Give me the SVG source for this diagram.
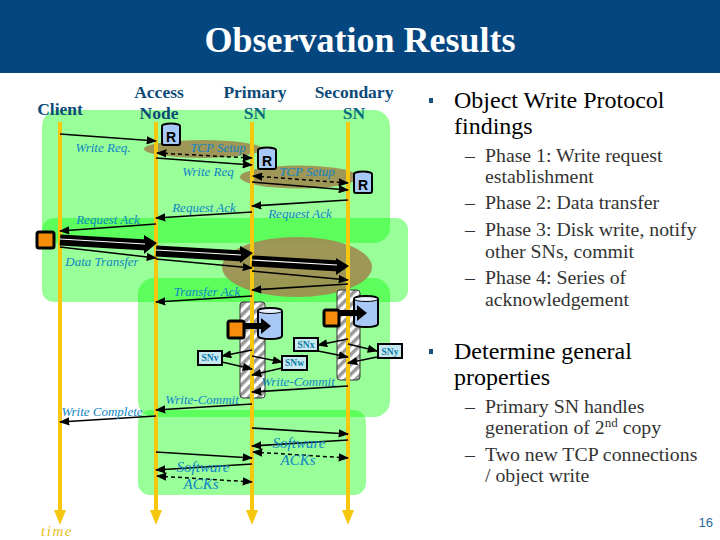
<svg xmlns="http://www.w3.org/2000/svg" width="720" height="540" viewBox="0 0 720 540">
<style>
text{font-family:"Liberation Serif","Times New Roman",serif}
.h{font-weight:bold;font-size:17.500px;fill:#0c4a78;text-anchor:middle}
.l{font-style:italic;font-size:13px;fill:#0f85c4;text-anchor:middle}
.b{font-size:24px;fill:#000}
.s{font-size:19.800px;fill:#333}
.sn{font-weight:bold;font-size:9.500px;fill:#0a78a8;text-anchor:middle}
.reg{fill:#00ff00;fill-opacity:.4}
.br{fill:#a08c50;fill-opacity:.9}
.ll{stroke:#f5c80f;stroke-width:4;fill:none}
.th{fill:#f5c80f}
.m{stroke:#000;stroke-width:1.500;fill:none;marker-end:url(#a)}
.dm{stroke:#000;stroke-width:1.500;fill:none;stroke-dasharray:4 3;marker-end:url(#a);marker-start:url(#as)}
.tk{stroke:#000;stroke-width:11;fill:none}
.tw{stroke:#fff;stroke-width:1.200;fill:none}
.box{fill:#c8e8f0;stroke:#000;stroke-width:2}
.cy{fill:#a8c8f5;stroke:#000;stroke-width:2}
.or{fill:#f58c0a;stroke:#000;stroke-width:3}
.bu{fill:#1a5078}
</style>
<defs>
<marker id="a" viewBox="0 0 10 8" refX="9" refY="4" markerWidth="7" markerHeight="5.500" orient="auto" markerUnits="strokeWidth"><path d="M0 0L10 4L0 8z" fill="#000"/></marker>
<marker id="as" viewBox="0 0 10 8" refX="1" refY="4" markerWidth="7" markerHeight="5.500" orient="auto" markerUnits="strokeWidth"><path d="M10 0L0 4L10 8z" fill="#000"/></marker>
<pattern id="hat" width="7" height="7" patternUnits="userSpaceOnUse" patternTransform="rotate(45)"><rect width="7" height="7" fill="#fff"/><rect width="3.500" height="7" fill="#999"/></pattern>
</defs>
<rect x="0" y="0" width="720" height="73" fill="#04467f"/>
<text x="360" y="52" text-anchor="middle" font-size="36" font-weight="bold" fill="#fff">Observation Results</text>

<g id="regions">
<rect class="reg" x="42" y="110" width="348" height="133" rx="16"/>
<rect class="reg" x="42" y="218" width="366" height="84" rx="12"/>
<rect class="reg" x="138" y="278" width="252" height="139" rx="16"/>
<rect class="reg" x="138" y="410" width="228" height="85" rx="12"/>
<ellipse class="br" cx="203" cy="149" rx="59" ry="9"/>
<ellipse class="br" cx="299" cy="177" rx="59" ry="11.500"/>
<ellipse class="br" cx="297" cy="267" rx="75" ry="30"/>
</g>

<g id="hatched">
<rect x="240" y="302" width="25" height="96" rx="3" fill="url(#hat)" stroke="#333" stroke-width="1"/>
<rect x="337" y="290" width="23" height="90" rx="3" fill="url(#hat)" stroke="#333" stroke-width="1"/>
</g>

<g id="lifelines">
<path class="ll" d="M60 122V512"/><path class="th" d="M54 510L60 525L66 510z"/>
<path class="ll" d="M156 122V512"/><path class="th" d="M150 510L156 525L162 510z"/>
<path class="ll" d="M252 122V512"/><path class="th" d="M246 510L252 525L258 510z"/>
<path class="ll" d="M348 122V512"/><path class="th" d="M342 510L348 525L354 510z"/>
</g>

<g id="connectors">
<path class="m" d="M60 134L156 141"/>
<path class="dm" d="M157 153L252 158"/>
<path class="m" d="M156 158L252 165"/>
<path class="dm" d="M253 176L348 183"/>
<path class="m" d="M252 182L348 190"/>
<path class="m" d="M348 200L252 206"/>
<path class="m" d="M252 212L156 218"/>
<path class="m" d="M156 224L60 231"/>
<path class="tk" d="M60 240L147 245"/><path d="M144 235L157 243L144 254z" fill="#000"/><path class="tw" d="M60 239L145 244"/>
<path class="tk" d="M156 251L243 256"/><path d="M240 246L253 253L240 263z" fill="#000"/><path class="tw" d="M156 250L241 255"/>
<path class="tk" d="M252 261L339 266"/><path d="M336 258L349 266L336 275z" fill="#000"/><path class="tw" d="M252 260L337 265"/>
<path class="m" d="M60 247L156 258"/>
<path class="m" d="M156 259L252 268"/>
<path class="m" d="M252 271L348 280"/>
<path class="m" d="M348 284L252 290"/>
<path class="m" d="M252 296L156 302"/>
<path class="m" d="M252 350L222 356"/>
<path class="m" d="M222 362L252 369"/>
<path class="m" d="M252 356L282 362"/>
<path class="m" d="M282 368L252 375"/>
<path class="m" d="M348 339L318 345"/>
<path class="m" d="M318 351L348 357"/>
<path class="m" d="M348 344L377 351"/>
<path class="m" d="M377 357L348 363"/>
<path class="m" d="M348 386L252 392"/>
<path class="m" d="M252 404L156 410"/>
<path class="m" d="M156 416L60 422"/>
<path class="m" d="M252 428L348 434"/>
<path class="m" d="M348 440L252 446"/>
<path class="dm" d="M253 452L348 458"/>
<path class="m" d="M156 452L252 458"/>
<path class="m" d="M252 464L156 470"/>
<path class="dm" d="M157 476L252 482"/>
</g>

<g id="client-disk"><rect class="or" x="37" y="232" width="17" height="16" rx="2"/></g>
<g id="primary-store">
<path class="cy" d="M258 311a12 3 0 0 1 24 0V336a12 3 0 0 1 -24 0z"/><ellipse cx="270" cy="311" rx="12" ry="2.500" fill="#e8f0ff" stroke="#000"/>
<rect class="or" x="228" y="321" width="16" height="17" rx="2"/>
<path d="M243 323H261V318L271 326L261 334V329H243z" fill="#000"/>
</g>
<g id="secondary-store">
<path class="cy" d="M354 299a12 3 0 0 1 24 0V324a12 3 0 0 1 -24 0z"/><ellipse cx="366" cy="299" rx="12" ry="2.500" fill="#e8f0ff" stroke="#000"/>
<rect class="or" x="324" y="310" width="15" height="16" rx="2"/>
<path d="M339 310H357V305L367 313L357 321V316H339z" fill="#000"/>
</g>
<g id="r1"><path class="cy" d="M162 126a9 2.500 0 0 1 18 0V143a2 2 0 0 1 -2 2H164a2 2 0 0 1 -2 -2z"/><text x="171" y="142" text-anchor="middle" font-size="14" font-weight="bold" style="font-family:'Liberation Sans',sans-serif">R</text></g>
<g id="r2"><path class="cy" d="M258 150a9 2.500 0 0 1 18 0V167a2 2 0 0 1 -2 2H260a2 2 0 0 1 -2 -2z"/><text x="267" y="166" text-anchor="middle" font-size="14" font-weight="bold" style="font-family:'Liberation Sans',sans-serif">R</text></g>
<g id="r3"><path class="cy" d="M354 174a9 2.500 0 0 1 18 0V191a2 2 0 0 1 -2 2H356a2 2 0 0 1 -2 -2z"/><text x="363" y="190" text-anchor="middle" font-size="14" font-weight="bold" style="font-family:'Liberation Sans',sans-serif">R</text></g>

<g id="snv"><rect class="box" x="198" y="351" width="24" height="14"/><text class="sn" x="210" y="361">SNv</text></g>
<g id="snw"><rect class="box" x="282" y="356" width="25" height="14"/><text class="sn" x="294.500" y="366">SNw</text></g>
<g id="snx"><rect class="box" x="294" y="338" width="24" height="13"/><text class="sn" x="306" y="348">SNx</text></g>
<g id="sny"><rect class="box" x="378" y="344" width="24" height="14"/><text class="sn" x="390" y="355">SNy</text></g>

<g id="heads">
<text class="h" x="60" y="115">Client</text>
<text class="h" x="159" y="98">Access</text><text class="h" x="159" y="119">Node</text>
<text class="h" x="255" y="98">Primary</text><text class="h" x="255" y="119" style="fill:#0a6a80">SN</text>
<text class="h" x="354" y="98">Secondary</text><text class="h" x="354" y="119" style="fill:#0a6a80">SN</text>
</g>
<g id="labels">
<text class="l" x="103" y="152">Write Req.</text>
<text class="l" x="218" y="152">TCP Setup</text>
<text class="l" x="208" y="176">Write Req</text>
<text class="l" x="307" y="176">TCP Setup</text>
<text class="l" x="204" y="212">Request Ack</text>
<text class="l" x="300" y="218">Request Ack</text>
<text class="l" x="108" y="224">Request Ack</text>
<text class="l" x="102" y="266">Data Transfer</text>
<text class="l" x="207" y="296">Transfer Ack</text>
<text class="l" x="298" y="386">Write-Commit</text>
<text class="l" x="202" y="404">Write-Commit</text>
<text class="l" x="102" y="416">Write Complete</text>
<text class="l" x="299" y="448" font-size="15" style="font-size:15px">Software</text>
<text class="l" x="298" y="465" style="font-size:15px">ACKs</text>
<text class="l" x="203" y="472" style="font-size:15px">Software</text>
<text class="l" x="201" y="489" style="font-size:15px">ACKs</text>
<text x="57" y="536" text-anchor="middle" font-size="15" font-style="italic" fill="#e8c020" letter-spacing="1.500">time</text>
</g>

<g id="bullets">
<rect class="bu" x="429" y="98" width="4" height="5"/>
<text class="b" x="454" y="108">Object Write Protocol</text>
<text class="b" x="454" y="134">findings</text>
<text class="s" x="465" y="162">–</text><text class="s" x="485" y="162">Phase 1: Write request</text>
<text class="s" x="485" y="183">establishment</text>
<text class="s" x="465" y="209">–</text><text class="s" x="485" y="209">Phase 2: Data transfer</text>
<text class="s" x="465" y="236">–</text><text class="s" x="485" y="236">Phase 3: Disk write, notify</text>
<text class="s" x="485" y="258">other SNs, commit</text>
<text class="s" x="465" y="284">–</text><text class="s" x="485" y="284">Phase 4: Series of</text>
<text class="s" x="485" y="306">acknowledgement</text>
<rect class="bu" x="429" y="349" width="4" height="5"/>
<text class="b" x="454" y="359">Determine general</text>
<text class="b" x="454" y="385">properties</text>
<text class="s" x="465" y="413">–</text><text class="s" x="485" y="413">Primary SN handles</text>
<text class="s" x="485" y="434">generation of 2<tspan font-size="13" dy="-7">nd</tspan><tspan dy="7"> copy</tspan></text>
<text class="s" x="465" y="461">–</text><text class="s" x="485" y="461">Two new TCP connections</text>
<text class="s" x="485" y="482">/ object write</text>
</g>
<text x="713" y="527" text-anchor="end" font-size="13" fill="#2a6a9a" style="font-family:'Liberation Sans',sans-serif">16</text>
</svg>
